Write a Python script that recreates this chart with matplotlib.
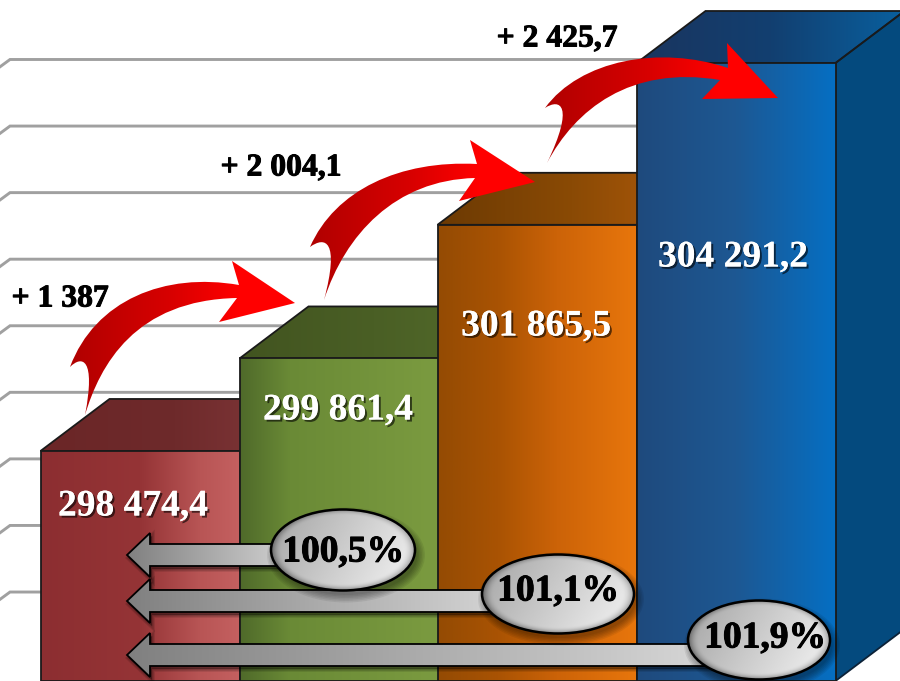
import numpy as np
import matplotlib
matplotlib.use('Agg')
import matplotlib.pyplot as plt
import matplotlib.patches as patches
import matplotlib.patheffects as pe
from matplotlib.path import Path
from matplotlib.colors import LinearSegmentedColormap as LSC

# data
values = [298474.4, 299861.4, 301865.5, 304291.2]
delta_labels = ['+ 1 387', '+ 2 004,1', '+ 2 425,7']
pct_labels = ['100,5%', '101,1%', '101,9%']
grid_values = [296360, 297358, 298356, 299354, 300352, 301350, 302348, 303346, 304344]

y_floor, y_top = 295026, 305236
depth_x, depth_y = 69, 780
bar_x = [140, 339, 537, 736]
bar_w = 199

front_cols = [
    [(0, '#8c2e31'), (.5, '#953436'), (.8, '#b85555'), (1, '#c46060')],
    [(0, '#4f6a2a'), (.25, '#6a8a36'), (1, '#7b9b40')],
    [(0, '#944b03'), (.3, '#a95303'), (.6, '#cc6308'), (1, '#e8760c')],
    [(0, '#1f4a7d'), (.5, '#1d5893'), (1, '#056fc3')],
]
top_cols = [
    ['#6b2627', '#6e2a2b', '#843a3c'],
    ['#425420', '#4a5f25', '#546c2b'],
    ['#6c3a03', '#8a4a05', '#b55c0a'],
    ['#1a355f', '#123f70', '#09609f'],
]

fig = plt.figure(figsize=(9, 6.81), dpi=100)
ax = fig.add_axes([0, 0, 1, 1])
ax2 = fig.add_axes([0, 0, 1, 1])  # pixel overlay for arrows and labels
ax2.patch.set_alpha(0)


def gradient(axis, cols, box, patch, z):
    cmap = LSC.from_list('g', cols)
    im = axis.imshow(np.linspace(0, 1, 256).reshape(1, -1), cmap=cmap, extent=box,
                     aspect='auto', interpolation='bilinear', zorder=z)
    im.set_clip_path(patch)
    return im


# gridlines with the little bent end on the left
for g in grid_values:
    ax.plot([0, 10, 900], [g - 110, g, g], color='#a0a0a0', lw=2.1, zorder=1,
            solid_joinstyle='miter')

# bars
heights = [v - y_floor for v in values]
bars = ax.bar(bar_x, heights, width=bar_w, bottom=y_floor, fill=False)
for i, (b, v) in enumerate(zip(bars, values)):
    l = b.get_x()
    r = l + b.get_width()
    z = 3 + i * 4
    tp = patches.Polygon([[l, v], [l + depth_x, v + depth_y], [r + depth_x, v + depth_y], [r, v]],
                         closed=True, facecolor='none', edgecolor='#1a1a1a', lw=1.3, zorder=z + 1)
    ax.add_patch(tp)
    gradient(ax, top_cols[i], (l, r + depth_x, v, v + depth_y), tp, z)
    if i == 3:
        side = patches.Polygon([[r, v], [r + depth_x, v + depth_y], [r + depth_x, y_floor + depth_y], [r, y_floor]],
                               closed=True, facecolor='#044a7e', edgecolor='#0c2238', lw=1.3, zorder=z)
        ax.add_patch(side)
    b.set_zorder(z + 3)
    b.set_edgecolor('#1a1a1a')
    b.set_linewidth(1.3)
    front = patches.Rectangle((l, y_floor), r - l, v - y_floor, facecolor='none', edgecolor='none', zorder=z)
    ax.add_patch(front)
    gradient(ax, front_cols[i], (l, r, y_floor, v), front, z + 2)

ax.set_xlim(0, 900)
ax.set_ylim(y_floor, y_top)
ax.axis('off')

# red curved arrows: tail, underside, head, top curve, notch
codes = [Path.MOVETO, Path.CURVE4, Path.CURVE4, Path.CURVE4, Path.LINETO, Path.LINETO,
         Path.LINETO, Path.LINETO, Path.CURVE4, Path.CURVE4, Path.CURVE4,
         Path.CURVE4, Path.CURVE4, Path.CURVE4]
red_shapes = [
    [(85, 415), (100, 365), (135, 300), (237, 298), (219, 322), (295, 303), (232, 261), (239, 285),
     (165, 272), (95, 300), (70, 367), (82, 355), (96, 358), (85, 415)],
    [(324, 300), (345, 235), (395, 180), (475, 178), (459, 201), (535, 182), (470, 140), (477, 164),
     (400, 160), (335, 190), (310, 247), (325, 236), (340, 240), (324, 300)],
    [(547, 163), (575, 110), (630, 65), (720, 80), (702, 99), (778, 98), (727, 43), (728, 68),
     (660, 45), (580, 60), (545, 108), (560, 98), (575, 105), (547, 163)],
]
red_cols = [(0, '#b00000'), (.45, '#d80000'), (.75, '#ff0000'), (1, '#ff0000')]
for shp in red_shapes:
    pts = np.array(shp, dtype=float)
    p = patches.PathPatch(Path(pts, codes), facecolor='none', edgecolor='none', zorder=20)
    ax2.add_patch(p)
    gradient(ax2, red_cols, (pts[:, 0].min(), pts[:, 0].max(), pts[:, 1].max(), pts[:, 1].min()), p, 20)

# grey arrows pointing back at the first bar
arrow_y = [555, 601, 655]
pill_x = [343, 558, 759]
pill_y = [550, 594, 640]
pill_w = [144, 152, 142]
pill_h = [81, 79, 79]
label_x = [343, 558, 765]
label_y = [552, 591, 638]

for i in range(3):
    c = arrow_y[i]
    e = pill_x[i]
    pts = [[127, c], [150, c - 22], [150, c - 11], [e, c - 11], [e, c + 11], [150, c + 11], [150, c + 22]]
    for k in range(3):
        sh = patches.Polygon(np.array(pts) + [2, 3], closed=True, facecolor='black', alpha=.12,
                             edgecolor='black', lw=4 - k * 1.5, zorder=24 + i * 2)
        ax2.add_patch(sh)
    ar = patches.Polygon(pts, closed=True, facecolor='none', edgecolor='black', lw=1.3, zorder=26 + i * 2)
    ax2.add_patch(ar)
    gradient(ax2, ['#808080', '#d8d8d8'], (127, e - 40, c + 22, c - 22), ar, 25 + i * 2)

# pills
u, v = np.meshgrid(np.linspace(-1, 1, 200), np.linspace(-1, 1, 200))
rad = np.sqrt(u ** 2 + v ** 2)
shade = .68 + .24 * (u + 1) / 2 + .04 * v - .3 * np.clip((rad - .84) / .16, 0, 1) ** 2
for i in range(3):
    x, y, w, h = pill_x[i], pill_y[i], pill_w[i], pill_h[i]
    for k in range(6):
        s = patches.Ellipse((x + 3, y + 5), w + 14 - k * 3, h + 14 - k * 3, facecolor='black',
                            edgecolor='none', alpha=.07, zorder=31)
        ax2.add_patch(s)
    el = patches.Ellipse((x, y), w, h, facecolor='none', edgecolor='black', lw=1.8, zorder=33)
    ax2.add_patch(el)
    im = ax2.imshow(shade, cmap='gray', vmin=0, vmax=1, extent=(x - w / 2, x + w / 2, y + h / 2, y - h / 2),
                    aspect='auto', interpolation='bilinear', zorder=32)
    im.set_clip_path(el)
    ax2.text(label_x[i], label_y[i], pct_labels[i], family='Liberation Serif', weight='bold',
             fontsize=27, ha='center', va='center', color='black', zorder=34,
             path_effects=[pe.withStroke(linewidth=.7, foreground='black')])

ax2.set_xlim(0, 900)
ax2.set_ylim(681, 0)
ax2.axis('off')

# labels
shadow = [pe.withSimplePatchShadow(offset=(1.5, -1.5), shadow_rgbFace='black', alpha=.6), pe.Normal()]
val_pos = [(133, 506), (338, 410), (536, 326), (733, 257)]
for (x, y), val in zip(val_pos, values):
    txt = f'{val:,.1f}'.replace(',', ' ').replace('.', ',')
    ax2.text(x, y, txt, family='Liberation Serif', weight='bold', fontsize=27, color='white',
             ha='center', va='center', zorder=40, path_effects=shadow)

delta_pos = [(60, 299), (281, 168), (557, 39)]
for (x, y), t in zip(delta_pos, delta_labels):
    ax2.text(x, y, t, family='Liberation Serif', weight='bold', fontsize=22.8, color='black',
             ha='center', va='center', zorder=40,
             path_effects=[pe.withStroke(linewidth=.7, foreground='black')])

fig.savefig('out.png', dpi=100)
